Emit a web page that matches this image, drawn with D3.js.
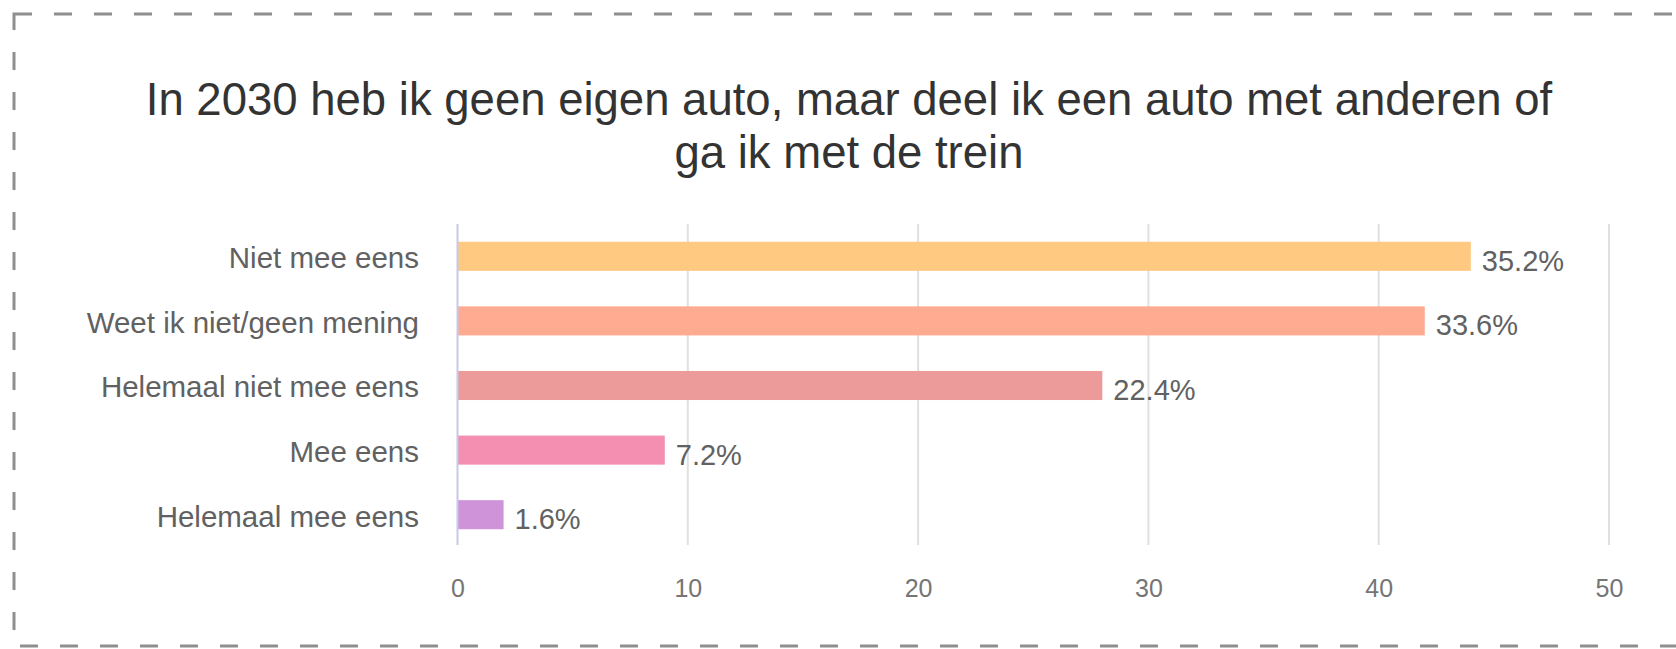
<!DOCTYPE html>
<html>
<head>
<meta charset="utf-8">
<script src="https://cdn.jsdelivr.net/npm/d3@7"></script>
<style>
  html, body { margin: 0; padding: 0; background: #fff; }
  svg { display: block; font-family: "Liberation Sans", Arial, sans-serif; }
</style>
</head>
<body>
<svg></svg>
<script>
// data
var categories = ["Niet mee eens", "Weet ik niet/geen mening", "Helemaal niet mee eens", "Mee eens", "Helemaal mee eens"];
var counts = [44, 42, 28, 9, 2];
var percentLabels = ["35.2%", "33.6%", "22.4%", "7.2%", "1.6%"];
var barColors = ["#ffc982", "#ffab91", "#ec9a9a", "#f48fb1", "#ce93d8"];
var xTicks = [0, 10, 20, 30, 40, 50];
var titleLines = ["In 2030 heb ik geen eigen auto, maar deel ik een auto met anderen of", "ga ik met de trein"];

var width = 1676, height = 649;
var svg = d3.select("svg").attr("width", width).attr("height", height);

// dashed frame
svg.append("rect")
    .attr("x", 14).attr("y", 14)
    .attr("width", width + 20).attr("height", 632)
    .attr("fill", "none")
    .attr("stroke", "#8f8f8f")
    .attr("stroke-width", 3)
    .attr("stroke-dasharray", "18,22");

// title
svg.append("text")
    .attr("x", 849)
    .attr("text-anchor", "middle")
    .attr("fill", "#333")
    .attr("font-size", 45.5)
  .selectAll("tspan")
  .data(titleLines)
  .enter().append("tspan")
    .attr("x", 849)
    .attr("y", function(d, i) { return 115 + i * 53; })
    .text(function(d) { return d; });

var x = d3.scaleLinear().domain([0, 50]).range([457.5, 1609]);
var y = d3.scaleBand().domain(categories).range([224, 547])
    .paddingInner(0.55).paddingOuter(0.275);

// gridlines
svg.append("g").selectAll("line")
    .data(xTicks.slice(1))
  .enter().append("line")
    .attr("x1", function(d) { return x(d); })
    .attr("x2", function(d) { return x(d); })
    .attr("y1", 224).attr("y2", 545)
    .attr("stroke", "#e0e0e0")
    .attr("stroke-width", 2);

// x tick labels
var xAxis = svg.append("g")
    .attr("transform", "translate(0,545)")
    .call(d3.axisBottom(x).tickValues(xTicks).tickSize(0).tickPadding(34));
xAxis.select(".domain").remove();
xAxis.selectAll("text")
    .attr("font-family", "Liberation Sans, Arial, sans-serif")
    .attr("font-size", 25)
    .attr("fill", "#757575");

// bars
svg.append("g").selectAll("rect")
    .data(counts)
  .enter().append("rect")
    .attr("x", x(0))
    .attr("y", function(d, i) { return y(categories[i]); })
    .attr("width", function(d) { return x(d) - x(0); })
    .attr("height", y.bandwidth())
    .attr("fill", function(d, i) { return barColors[i]; });

// zero line
svg.append("line")
    .attr("x1", x(0)).attr("x2", x(0))
    .attr("y1", 224).attr("y2", 545)
    .attr("stroke", "#c5cae9")
    .attr("stroke-width", 2);

// value labels
svg.append("g").selectAll("text")
    .data(counts)
  .enter().append("text")
    .attr("x", function(d) { return x(d) + 11; })
    .attr("y", function(d, i) { return y(categories[i]) + y.bandwidth() / 2; })
    .attr("dy", "0.5em")
    .attr("font-size", 29)
    .attr("fill", "#616161")
    .text(function(d, i) { return percentLabels[i]; });

// category labels
var yAxis = svg.append("g")
    .attr("transform", "translate(419,0)")
    .call(d3.axisLeft(y).tickSize(0).tickPadding(0));
yAxis.select(".domain").remove();
yAxis.selectAll("text")
    .attr("font-family", "Liberation Sans, Arial, sans-serif")
    .attr("font-size", 29.5)
    .attr("fill", "#616161")
    .attr("dy", "0.4em");
</script>
</body>
</html>
